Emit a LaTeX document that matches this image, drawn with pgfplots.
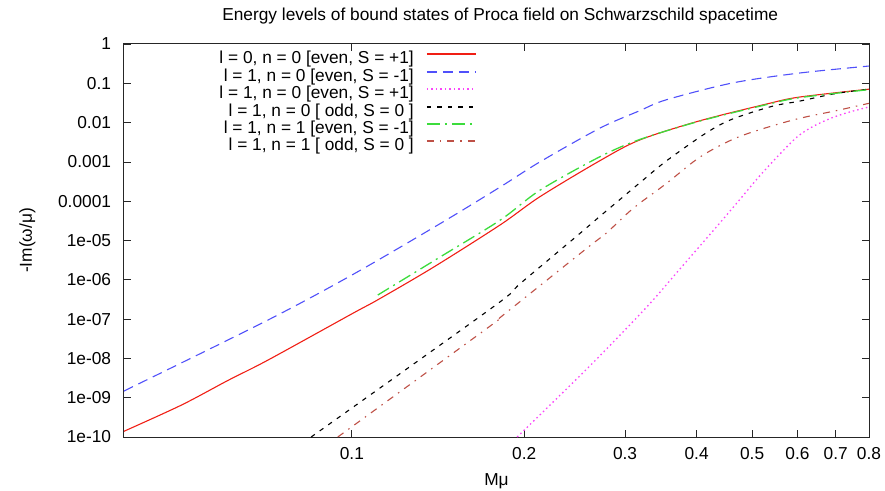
\documentclass[border=0pt]{standalone}
\usepackage{fontspec}
\setmainfont{Liberation Sans}
\usepackage{pgfplots}
\pgfplotsset{compat=1.18}

\definecolor{cRed}{RGB}{240,30,20}
\definecolor{cBlue}{RGB}{80,80,250}
\definecolor{cMag}{RGB}{250,70,250}
\definecolor{cGreen}{RGB}{60,220,60}
\definecolor{cBrown}{RGB}{190,80,70}

\begin{document}
\fontsize{17.3}{20}\selectfont
\begin{tikzpicture}
\useasboundingbox (-124pt,-53pt) rectangle (761pt,437pt);
\begin{axis}[
	scale only axis,
	width=745pt,
	height=393pt,
	xmode=log,
	ymode=log,
	xmin=0.04, xmax=0.8,
	ymin=1e-10, ymax=1,
	xtick={0.1,0.2,0.3,0.4,0.5,0.6,0.7,0.8},
	xticklabels={0.1,0.2,0.3,0.4,0.5,0.6,0.7,0.8},
	ytick={1e-10,1e-9,1e-8,1e-7,1e-6,1e-5,1e-4,1e-3,1e-2,1e-1,1},
	yticklabels={1e-10,1e-09,1e-08,1e-07,1e-06,1e-05,0.0001,0.001,0.01,0.1,1},
	xminorticks=false,
	yminorticks=false,
	/pgf/number format/assume math mode=true,
	tick align=inside,
	major tick length=7pt,
	tick style={black!85, line width=0.8pt},
	axis line style={black!85, line width=1pt},
	yticklabel style={xshift=-7pt},
	xticklabel style={yshift=-4pt},
	title={Energy levels of bound states of Proca field on Schwarzschild spacetime},
	title style={at={(axis description cs:0.505,1.056)}, anchor=center},
	xlabel={Mμ},
	x label style={at={(axis description cs:0.5,-0.1115)}, anchor=center},
	ylabel={-Im(ω/μ)},
	y label style={at={(axis description cs:-0.1295,0.5)}, anchor=center},
	legend style={at={(axis description cs:0.4738,0.982)}, anchor=north east,
		draw=none, fill=none, inner sep=0pt, column sep=12pt,
		nodes={inner sep=0pt, text height=12.6pt, text depth=4.8pt}},
	legend cell align=right,
	legend plot pos=right,
	legend image code/.code={\draw[#1, line width=2pt] (0pt,5.5pt) -- (49pt,5.5pt);},
]
% l=0, n=0 even S=+1
\addplot[cRed, line width=1.1pt, smooth, tension=0.5] coordinates {
(0.040,1.4e-10) (0.0504,6.5e-10) (0.0609,2.8e-9) (0.0714,9.1e-9)
(0.1008,1.45e-7) (0.111,3.1e-7) (0.1389,2.1e-6) (0.1816,2.5e-5)
(0.213,1.3e-4) (0.271,1.07e-3) (0.318,3.6e-3) (0.404,1.1e-2)
(0.529,2.95e-2) (0.604,4.45e-2) (0.8,7.1e-2)
};
\addlegendentry{l = 0, n = 0 [even, S = +1]}
% l=1, n=0 even S=-1
\addplot[cBlue, line width=1.1pt, dash pattern=on 10pt off 6pt, smooth, tension=0.5] coordinates {
(0.040,1.48e-9) (0.0714,9.5e-8) (0.1008,1.41e-6) (0.143,2.75e-5)
(0.1816,2.3e-4) (0.213,1.0e-3) (0.271,7.2e-3) (0.318,2.0e-2)
(0.354,3.8e-2) (0.462,0.102) (0.604,0.182) (0.8,0.275)
};
\addlegendentry{l = 1, n = 0 [even, S = -1]}
% l=1, n=0 even S=+1
\addplot[cMag, line width=1.3pt, dash pattern=on 1.5pt off 3pt, smooth, tension=0.5] coordinates {
(0.1944,1e-10) (0.26,6.3e-9) (0.327,2.0e-7) (0.373,1.8e-6)
(0.433,2.2e-5) (0.475,1.07e-4) (0.514,4.2e-4) (0.557,1.5e-3)
(0.60,4.4e-3) (0.64,8.1e-3) (0.689,1.32e-2) (0.74,1.86e-2) (0.8,2.5e-2)
};
\addlegendentry{l = 1, n = 0 [even, S = +1]}
% l=1, n=0 odd S=0
\addplot[black, line width=1.1pt, dash pattern=on 4.5pt off 6pt, smooth, tension=0.5] coordinates {
(0.0849,1e-10) (0.177,2.1e-7) (0.197,8.1e-7) (0.25,1.5e-5)
(0.271,4.1e-5) (0.291,9.8e-5) (0.318,2.9e-4) (0.354,1.05e-3)
(0.416,5.5e-3) (0.462,1.23e-2) (0.542,2.6e-2) (0.604,3.5e-2)
(0.7,5.5e-2) (0.8,7.1e-2)
};
\addlegendentry{l = 1, n = 0 [ odd, S = 0 ]}
% l=1, n=1 even S=-1
\addplot[cGreen, line width=1.3pt, dash pattern=on 13pt off 5pt on 2pt off 5pt, smooth, tension=0.5] coordinates {
(0.111,4.1e-7) (0.143,3.9e-6) (0.1816,3.3e-5) (0.213,1.9e-4)
(0.271,1.35e-3) (0.318,3.7e-3) (0.404,1.08e-2) (0.529,2.85e-2)
(0.604,4.3e-2) (0.8,6.9e-2)
};
\addlegendentry{l = 1, n = 1 [even, S = -1]}
% l=1, n=1 odd S=0
\addplot[cBrown, line width=1.1pt, dash pattern=on 7pt off 6pt on 1.5pt off 6pt, smooth, tension=0.5] coordinates {
(0.0945,1e-10) (0.174,6.5e-8) (0.1816,1.1e-7) (0.210,6.0e-7)
(0.26,7.2e-6) (0.279,1.6e-5) (0.31,6.6e-5) (0.354,2.8e-4)
(0.407,1.38e-3) (0.475,4.4e-3) (0.59,1.17e-2) (0.7,2.0e-2) (0.8,3.1e-2)
};
\addlegendentry{l = 1, n = 1 [ odd, S = 0 ]}
\end{axis}
\end{tikzpicture}
\end{document}
